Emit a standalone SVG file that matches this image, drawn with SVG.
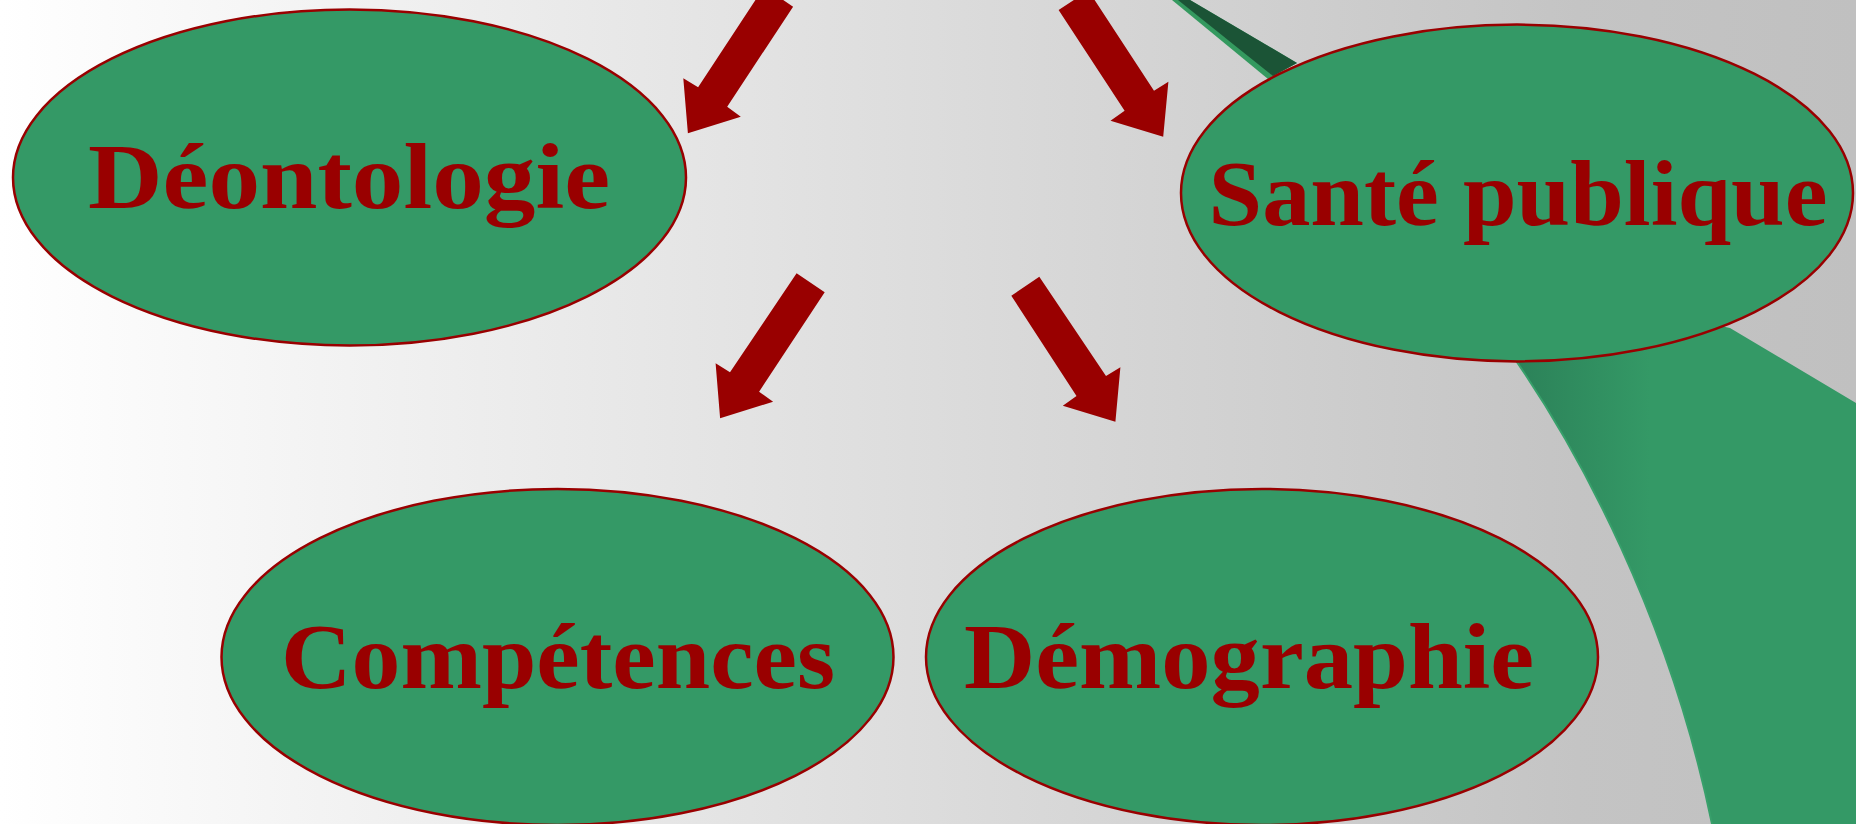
<svg xmlns="http://www.w3.org/2000/svg" width="1856" height="824" viewBox="0 0 1856 824">
<defs>
<linearGradient id="bg" x1="0" y1="0" x2="1856" y2="0" gradientUnits="userSpaceOnUse">
<stop offset="0" stop-color="#ffffff"/>
<stop offset="0.85" stop-color="#c4c4c4"/>
<stop offset="1" stop-color="#c0c0c0"/>
</linearGradient>
<linearGradient id="band" x1="1520" y1="0" x2="1650" y2="0" gradientUnits="userSpaceOnUse">
<stop offset="0" stop-color="#2c8259"/>
<stop offset="1" stop-color="#349966"/>
</linearGradient>
<style>
.node ellipse{fill:#349966;stroke:#990000;stroke-width:2.5}
.node text{font-family:"Liberation Serif","Times New Roman",serif;font-weight:bold;font-size:94px;fill:#990000}
.arrow{fill:#990000}
</style>
</defs>
<rect x="0" y="0" width="1856" height="824" fill="url(#bg)"/>
<g id="backdrop">
<path d="M1505,345 C1580,450 1670,620 1712,824 L1856,824 L1856,403 L1730,328 L1600,300 Z" fill="url(#band)"/>
<path d="M1505,345 C1580,450 1670,620 1712,824" fill="none" stroke="#38a06b" stroke-width="2"/>
<polygon points="1172,0 1190,0 1297,63 1268,79" fill="#34995f"/>
<polygon points="1178,0 1190,0 1297,63 1273,76" fill="#1b5436"/>
</g>
<g id="connectors">
<polygon class="arrow" points="764,-13 793.1,6.7 727.2,106.7 740.8,116.7 687.9,133.3 683.3,78.3 698.1,87.3"/>
<polygon class="arrow" points="1088.4,-9.5 1058.6,10 1124.6,110.7 1110.5,120.7 1163.2,136.7 1168.4,81.7 1154,90.7"/>
<polygon class="arrow" points="796.6,273.3 824.7,292.3 759.1,391.7 773.1,401.7 720.1,418.3 715.6,363.3 730,372.3"/>
<polygon class="arrow" points="1039.3,276.7 1011.3,295.7 1076.5,396 1062.8,405.7 1115.4,421.7 1120.4,367.3 1106,376"/>
</g>
<g id="node-deontologie" class="node">
<ellipse cx="349.5" cy="177.5" rx="336.5" ry="168"/>
<text x="88" y="208" textLength="522" lengthAdjust="spacingAndGlyphs">Déontologie</text>
</g>
<g id="node-sante" class="node">
<ellipse cx="1517" cy="193" rx="336" ry="168.4"/>
<text x="1208.5" y="225" textLength="619" lengthAdjust="spacingAndGlyphs">Santé publique</text>
</g>
<g id="node-competences" class="node">
<ellipse cx="557.5" cy="657" rx="336" ry="168"/>
<text x="281" y="688" textLength="554" lengthAdjust="spacingAndGlyphs">Compétences</text>
</g>
<g id="node-demographie" class="node">
<ellipse cx="1262" cy="657" rx="336" ry="168"/>
<text x="964" y="688" textLength="570" lengthAdjust="spacingAndGlyphs">Démographie</text>
</g>
</svg>
